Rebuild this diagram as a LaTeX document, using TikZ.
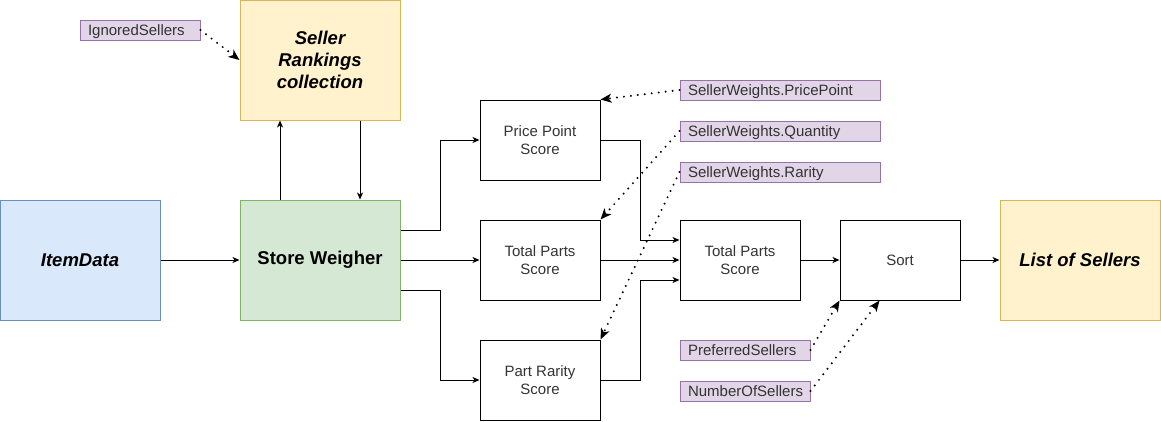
\documentclass[tikz,border=0pt]{standalone}
\usepackage{fontspec}
\setmainfont{Liberation Sans}
\usepackage{tikz}
\usetikzlibrary{positioning}
\usetikzlibrary{arrows.meta}
\definecolor{color-item}{RGB}{218,232,252}
\definecolor{border-item}{RGB}{108,142,191}
\definecolor{color-weigher}{RGB}{213,232,212}
\definecolor{border-weigher}{RGB}{130,179,102}
\definecolor{color-result}{RGB}{255,242,204}
\definecolor{border-result}{RGB}{214,182,86}
\definecolor{color-param}{RGB}{225,213,231}
\definecolor{border-param}{RGB}{150,115,166}
\definecolor{color-text}{RGB}{51,51,51}

\begin{document}
\begin{tikzpicture}[x=1pt, y=-1pt, line width=1pt, >={Stealth[length=7pt,width=6pt,inset=2pt]},
big/.style={draw, minimum width=160pt, minimum height=120pt, align=center, font=\fontsize{18.5}{22}\selectfont\bfseries},
italic/.style={font=\fontsize{18.5}{22}\selectfont\bfseries\itshape},
box/.style={draw, minimum width=120pt, minimum height=80pt, align=center, text=color-text, font=\fontsize{15}{18}\selectfont},
param/.style={draw=border-param, fill=color-param, minimum height=20pt, inner ysep=0pt, inner xsep=8pt, text width=#1, text height=11pt, text depth=0.5pt, align=left, text=color-text, font=\fontsize{15}{18}\selectfont},
link/.style={->},
hint/.style={-{Stealth[length=11pt,width=9pt,inset=3pt]}, dash pattern=on 0pt off 7pt, line cap=round, line width=2.2pt}]

\useasboundingbox (0,0) rectangle (1161,421);

%% main blocks
\node [big, fill=color-item, draw=border-item, italic] (item) at (80,260) {ItemData};
\node [big, fill=color-weigher, draw=border-weigher] (weigher) at (320,260) {Store Weigher};
\node [big, fill=color-result, draw=border-result, italic] (rankings) at (320,60) {Seller\\Rankings\\collection};
\node [big, fill=color-result, draw=border-result, italic] (sellers) at (1080,260) {List of Sellers};

%% scores
\node [box] (price) at (540,140) {Price Point\\Score};
\node [box] (parts) at (540,260) {Total Parts\\Score};
\node [box] (rarity) at (540,380) {Part Rarity\\Score};
\node [box] (total) at (740,260) {Total Parts\\Score};
\node [box] (sort) at (900,260) {Sort};

%% parameters
\node [param=104pt] (ignored) at (140,30) {IgnoredSellers};
\node [param=184pt] (wprice) at (780,90) {SellerWeights.PricePoint};
\node [param=184pt, below = 20pt of wprice] (wquantity) {SellerWeights.Quantity};
\node [param=184pt, below = 20pt of wquantity] (wrarity) {SellerWeights.Rarity};
\node [param=114pt] (preferred) at (745,350) {PreferredSellers};
\node [param=114pt, below = 20pt of preferred] (number) {NumberOfSellers};

\draw [link] (item) -- (weigher);
\draw [link] ([xshift=-40pt]weigher.north) -- ([xshift=-40pt]rankings.south);
\draw [link] ([xshift=40pt]rankings.south) -- ([xshift=40pt]weigher.north);
\draw [link] ([yshift=30pt]weigher.east) -- ++(40,0) |- (price);
\draw [link] (weigher) -- (parts);
\draw [link] ([yshift=-30pt]weigher.east) -- ++(40,0) |- (rarity);
\draw [link] (price.east) -- ++(40,0) |- ([yshift=20pt]total.west);
\draw [link] (parts) -- (total);
\draw [link] (rarity.east) -- ++(40,0) |- ([yshift=-20pt]total.west);
\draw [link] (total) -- (sort);
\draw [link] (sort) -- (sellers);

\draw [hint] (ignored.east) -- (rankings.west);
\draw [hint] (wprice.west) -- (price.north east);
\draw [hint] (wquantity.west) -- (parts.north east);
\draw [hint] (wrarity.west) -- (rarity.north east);
\draw [hint] (preferred.east) -- (sort.south west);
\draw [hint] (number.east) -- ([xshift=40pt]sort.south west);

\end{tikzpicture}
\end{document}
